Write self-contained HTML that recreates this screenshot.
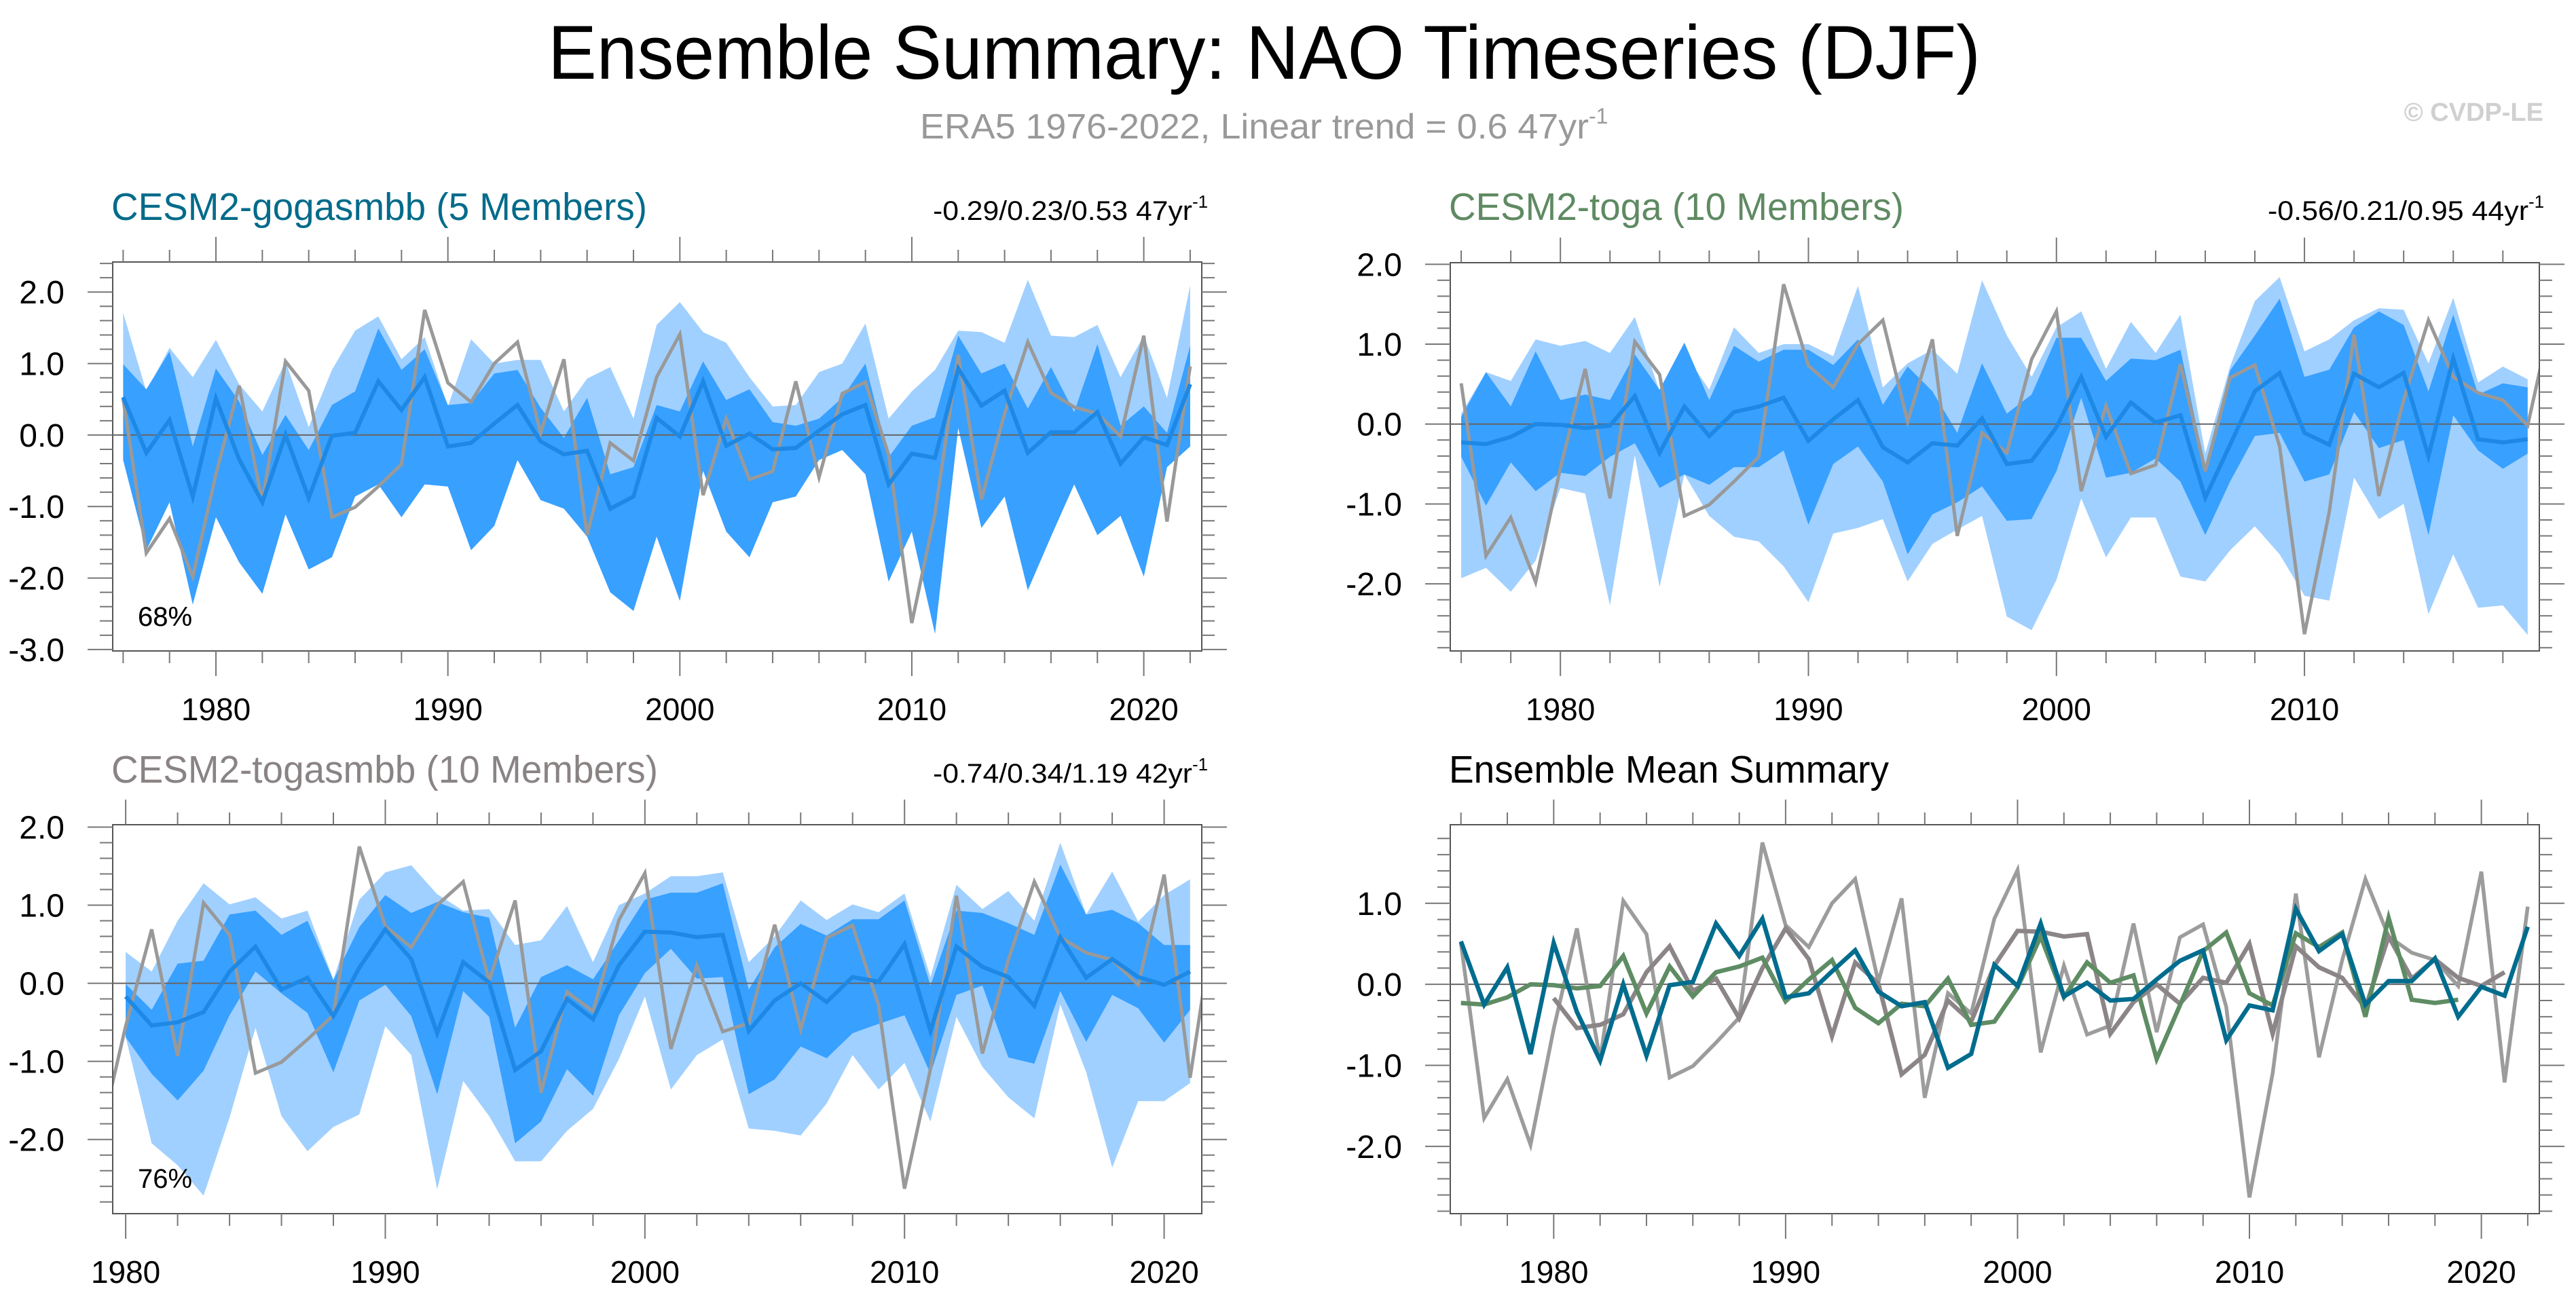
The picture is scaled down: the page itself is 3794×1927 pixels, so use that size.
<!DOCTYPE html>
<html><head><meta charset="utf-8"><style>
html,body{margin:0;padding:0;background:#fff;}
svg{display:block;font-family:"Liberation Sans",sans-serif;}
</style></head><body>
<svg id="chart" width="3794" height="1927" viewBox="0 0 3794 1927" xmlns="http://www.w3.org/2000/svg">
<rect width="3794" height="1927" fill="#fff"/>
<text x="807" y="116" font-size="112" textLength="2110" lengthAdjust="spacingAndGlyphs" fill="#000">Ensemble Summary: NAO Timeseries (DJF)</text>
<text x="1355" y="204" font-size="52" fill="#999"><tspan textLength="985" lengthAdjust="spacingAndGlyphs">ERA5 1976-2022, Linear trend = 0.6 47yr</tspan><tspan font-size="32" dy="-22">-1</tspan></text>
<text x="3746" y="178" font-size="38" font-weight="bold" fill="#d0d0d0" text-anchor="end">© CVDP-LE</text>
<g id="panels"></g>
</svg>
<script>
const years1976 = [];
for (let y = 1976; y <= 2022; y++) years1976.push(y);
const era5 = [0.51,-1.65,-1.17,-1.98,-0.55,0.69,-0.93,1.03,0.62,-1.15,-1.01,-0.72,-0.41,1.75,0.73,0.46,1.0,1.3,0.03,1.06,-1.40,-0.11,-0.36,0.81,1.41,-0.84,0.23,-0.62,-0.51,0.75,-0.59,0.58,0.74,-0.28,-2.63,-1.1,1.12,-0.9,0.3,1.3,0.59,0.39,0.30,-0.02,1.39,-1.21,0.96];

// CESM2-gogasmbb 1976-2022
const gogStart = 1976;
const gogMean = [0.53,-0.25,0.21,-0.86,0.51,-0.34,-0.94,0,-0.88,-0.01,0.03,0.75,0.35,0.81,-0.16,-0.11,0.16,0.42,-0.09,-0.27,-0.22,-1.03,-0.86,0.24,-0.02,0.75,-0.15,0.02,-0.20,-0.18,0.06,0.29,0.42,-0.69,-0.26,-0.32,0.93,0.41,0.62,-0.25,0.04,0.04,0.32,-0.40,-0.03,-0.14,0.71];
const gogMidHi = [0.99,0.64,1.17,-0.16,0.93,0.47,-0.28,0.28,-0.21,0.42,0.61,1.49,0.91,1.20,0.42,0.45,0.86,0.91,0.38,-0.04,0.52,-0.55,-0.45,0.42,0.33,1.03,0.49,0.64,0.18,0.13,0.23,0.52,1.0,-0.31,0.13,0.25,1.39,0.86,1.0,0.37,0.95,0.32,1.27,0.13,0.4,0.03,1.25];
const gogMidLo = [-0.35,-1.61,-0.94,-2.37,-1.15,-1.78,-2.22,-1.11,-1.88,-1.71,-0.86,-0.69,-1.15,-0.69,-0.72,-1.61,-1.27,-0.35,-0.91,-1.03,-1.42,-2.2,-2.46,-1.42,-2.32,-0.5,-1.35,-1.71,-0.94,-0.86,-0.35,-0.21,-0.55,-2.05,-1.35,-2.78,0.1,-1.3,-0.86,-2.17,-1.42,-0.69,-1.40,-1.13,-1.98,-0.45,-0.16];
const gogRngHi = [1.71,0.61,1.22,0.81,1.33,0.71,0.33,1.03,0.11,0.91,1.46,1.66,1.06,1.37,0.40,1.34,1.0,1.05,1.05,0.33,0.79,0.95,0.23,1.54,1.86,1.44,1.29,0.81,0.40,0.42,0.88,1.0,1.56,0.23,0.61,0.91,1.46,1.44,1.29,2.17,1.39,1.37,1.54,0.81,1.39,0.52,2.09];
const gogRngLo = gogMidLo;

// CESM2-toga 1976-2019
const togaStart = 1976;
const togaMean = [-0.23,-0.25,-0.16,0,-0.01,-0.05,-0.02,0.35,-0.36,0.22,-0.15,0.15,0.22,0.33,-0.21,0.06,0.30,-0.29,-0.48,-0.24,-0.27,0.07,-0.50,-0.46,-0.04,0.59,-0.16,0.27,0.02,0.11,-0.92,-0.26,0.41,0.64,-0.11,-0.26,0.63,0.46,0.64,-0.40,0.82,-0.19,-0.23,-0.19];
const togaMidHi = [0.09,0.65,0.22,0.91,0.30,0.37,0.30,0.87,0.43,1.02,0.30,0.98,0.78,0.93,0.93,0.74,1.06,0.24,0.72,0.41,-0.11,0.76,0.13,0.37,1.08,1.08,0.54,0.82,0.80,0.93,-0.54,0.67,1.11,1.57,0.59,0.68,1.21,1.41,1.24,0.41,1.37,0.37,0.51,0.46];
const togaMidLo = [-0.41,-1.02,-0.48,-0.84,-0.61,-0.65,-0.41,-0.24,-0.80,-0.63,-0.76,-0.54,-0.54,-0.33,-1.26,-0.50,-0.28,-0.72,-1.63,-1.13,-0.98,-0.78,-1.21,-1.19,-0.59,0.33,-0.67,-0.61,-0.43,-0.72,-1.39,-0.72,-0.15,-0.11,-0.72,-0.63,0.15,-0.30,-0.20,-1.39,0.11,-0.33,-0.56,-0.37];
const togaRngHi = [0.13,0.65,0.54,1.06,0.98,1.04,0.89,1.34,0.41,0.89,0.43,1.21,0.89,1.0,1.0,0.85,1.73,0.46,0.76,0.93,0.63,1.80,1.11,0.59,1.21,1.41,0.69,1.28,0.89,1.37,-0.37,0.72,1.54,1.84,0.91,1.06,1.30,1.45,1.43,0.76,1.58,0.52,0.72,0.56];
const togaRngLo = [-1.93,-1.80,-2.10,-1.71,-0.80,-0.87,-2.27,-0.39,-2.04,-0.63,-1.15,-1.41,-1.47,-1.78,-2.23,-1.37,-1.30,-1.19,-1.97,-1.50,-1.32,-1.15,-2.41,-2.58,-1.95,-0.93,-1.67,-1.17,-1.17,-1.91,-1.97,-1.58,-1.28,-1.63,-2.15,-2.21,-0.67,-1.19,-1.00,-2.38,-1.63,-2.30,-2.27,-2.64];

// CESM2-togasmbb 1980-2021
const tsmStart = 1980;
const tsmMean = [-0.17,-0.54,-0.50,-0.37,0.15,0.47,-0.08,0.07,-0.42,0.20,0.69,0.31,-0.64,0.27,0.01,-1.11,-0.87,-0.20,-0.46,0.23,0.66,0.65,0.59,0.62,-0.61,-0.22,0,-0.24,0.08,0.02,0.50,-0.61,0.47,0.21,0.08,-0.29,0.59,0.07,0.31,0.08,-0.02,0.15];
const tsmMidHi = [-0.01,-0.34,0.25,0.29,0.88,0.93,0.62,0.80,0.04,0.72,1.13,0.90,1.04,0.91,0.84,-0.57,0.08,0.23,0.05,0.55,1.07,1.16,1.16,1.28,-0.08,0.46,0.76,0.61,0.82,0.82,1.06,-0.03,0.93,0.90,0.77,0.62,1.52,0.88,0.94,0.77,0.49,0.49];
const tsmMidLo = [-0.69,-1.16,-1.50,-1.12,-0.41,0.15,-0.13,-0.38,-1.14,-0.22,-0.02,-0.42,-1.42,-0.10,-0.43,-2.05,-1.77,-1.10,-1.44,-0.41,0.13,0.44,0.06,0.08,-1.42,-1.23,-0.81,-0.96,-0.64,-0.52,-0.41,-1.16,-0.15,-0.03,-0.95,-1.03,-0.10,-0.75,-0.15,-0.32,-0.76,-0.34];
const tsmRngHi = [0.40,0.15,0.80,1.28,1.01,1.10,0.83,0.93,0.05,1.07,1.42,1.51,1.14,0.93,0.95,0.49,0.55,0.99,0.27,1.00,1.15,1.37,1.37,1.42,0.27,0.60,1.06,0.81,1.01,0.91,1.15,0.08,1.26,0.95,1.18,0.80,1.80,0.88,1.43,0.79,1.13,1.33];
const tsmRngLo = [-0.69,-2.05,-2.33,-2.72,-1.72,-0.57,-1.70,-2.15,-1.84,-1.68,-0.55,-0.92,-2.64,-1.25,-1.70,-2.28,-2.28,-1.89,-1.61,-0.97,-0.17,-1.36,-0.92,-0.72,-1.86,-1.89,-1.95,-1.54,-0.92,-1.36,-1.02,-1.77,-0.43,-1.07,-1.46,-1.73,-0.27,-1.14,-2.36,-1.51,-1.51,-1.28];

const yTicksP1 = [2,1,0,-1,-2,-3];
const yTicksP2 = [2,1,0,-1,-2];
const yTicksP4 = [1,0,-1,-2];
const xTickLabels = [1980,1990,2000,2010,2020];

const NS = "http://www.w3.org/2000/svg";
const root = document.getElementById("panels");
function mk(tag, attrs, parent) {
  const e = document.createElementNS(NS, tag);
  for (const k in attrs) e.setAttribute(k, attrs[k]);
  (parent || root).appendChild(e);
  return e;
}
let clipId = 0;
function panel(p) {
  const g = mk("g", {});
  
  
  const sx = v => p.x0 + (v - p.xmin) / (p.xmax - p.xmin) * (p.x1 - p.x0);
  const sy = v => p.y1 - (v - p.ymin) / (p.ymax - p.ymin) * (p.y1 - p.y0);
  const cid = "clip" + (clipId++);
  const cp = mk("clipPath", {id: cid}, g);
  mk("rect", {x: p.x0, y: p.y0, width: p.x1 - p.x0, height: p.y1 - p.y0}, cp);
  const plot = mk("g", {"clip-path": "url(#" + cid + ")"}, g);
  function band(start, hi, lo, color, name) {
    let d = "";
    hi.forEach((v, i) => d += (i ? "L" : "M") + sx(start + i).toFixed(1) + "," + sy(v).toFixed(1));
    for (let i = lo.length - 1; i >= 0; i--) d += "L" + sx(start + i).toFixed(1) + "," + sy(lo[i]).toFixed(1);
    const e = mk("path", {d: d + "Z", fill: color}, plot);
    
    
  }
  function line(start, vals, color, w, name) {
    let d = "";
    vals.forEach((v, i) => d += (i ? "L" : "M") + sx(start + i).toFixed(1) + "," + sy(v).toFixed(1));
    const e = mk("path", {d: d, fill: "none", stroke: color, "stroke-width": w, "stroke-linejoin": "miter"}, plot);
    
    
  }
  if (p.bands) {
    band(p.start, p.rngHi, p.rngLo, "#a0d0ff", "range-band");
    band(p.start, p.midHi, p.midLo, "#38a0ff", "spread-68pct-band");
  }
  mk("line", {x1: p.x0, x2: p.x1, y1: sy(0), y2: sy(0), stroke: "#666", "stroke-width": 2}, plot);
  if (p.bands) {
    line(1976, era5, "#999999", 5, "era5-line");
    line(p.start, p.mean, "#1e88e5", 6, "ensemble-mean-line");
  } else {
    line(1976, era5, "#9c9c9c", 5.5, "era5-line");
    line(tsmStart, tsmMean, "#8c8587", 6.5, "togasmbb-mean-line");
    line(togaStart, togaMean, "#5e8c63", 6.5, "toga-mean-line");
    line(gogStart, gogMean, "#006c8e", 6.5, "gogasmbb-mean-line");
  }
  // frame
  mk("rect", {x: p.x0, y: p.y0, width: p.x1 - p.x0, height: p.y1 - p.y0, fill: "none", stroke: "#555", "stroke-width": 2}, g);
  // x ticks
  const fy0 = Math.ceil(p.xmin), fy1 = Math.floor(p.xmax);
  for (let yr = fy0; yr <= fy1; yr++) {
    if (yr % 2) continue;
    const major = yr % 10 === 0, len = major ? 37 : 18, x = sx(yr);
    mk("line", {x1: x, x2: x, y1: p.y0, y2: p.y0 - len, stroke: "#777", "stroke-width": 2}, g);
    mk("line", {x1: x, x2: x, y1: p.y1, y2: p.y1 + len, stroke: "#777", "stroke-width": 2}, g);
  }
  xTickLabels.forEach(yr => {
    if (yr < p.xmin || yr > p.xmax) return;
    const t = mk("text", {x: sx(yr), y: p.y1 + 102, "font-size": 46, "text-anchor": "middle", fill: "#000"}, g);
    t.textContent = yr;
    
    
  });
  // y ticks
  for (let k = Math.ceil(p.ymin * 5); k <= Math.floor(p.ymax * 5); k++) {
    const v = k / 5, major = k % 5 === 0, len = major ? 37 : 19, y = sy(v);
    mk("line", {x1: p.x0, x2: p.x0 - len, y1: y, y2: y, stroke: "#777", "stroke-width": 2}, g);
    mk("line", {x1: p.x1, x2: p.x1 + len, y1: y, y2: y, stroke: "#777", "stroke-width": 2}, g);
  }
  p.yTicks.forEach(v => {
    const t = mk("text", {x: p.x0 - 71, y: sy(v) + 17, "font-size": 48, "text-anchor": "end", fill: "#000"}, g);
    t.textContent = v.toFixed(1);
    
    
  });
  const tt = mk("text", {x: p.x0 - 2, y: p.titleY, "font-size": 57, fill: p.titleColor, textLength: p.titleW, lengthAdjust: "spacingAndGlyphs"}, g);
  tt.textContent = p.title;
  
  
  if (p.stat) {
    const st = mk("text", {x: p.statX, y: p.titleY, "font-size": 40, fill: "#000"}, g);
    
    
    const a = mk("tspan", {textLength: p.statW, lengthAdjust: "spacingAndGlyphs"}, st);
    a.textContent = p.stat;
    const b = mk("tspan", {"font-size": 26, dy: -18}, st);
    b.textContent = "-1";
  }
  if (p.pct) {
    const pt = mk("text", {x: 203, y: p.pctY, "font-size": 40, fill: "#000"}, g);
    pt.textContent = p.pct;
    
    
  }
}
panel({name: "panel-cesm2-gogasmbb", x0: 166, x1: 1770, y0: 386, y1: 959, xmin: 1975.55, xmax: 2022.5, ymin: -3.02, ymax: 2.42,
  bands: true, start: gogStart, mean: gogMean, midHi: gogMidHi, midLo: gogMidLo, rngHi: gogRngHi, rngLo: gogRngLo, yTicks: yTicksP1,
  title: "CESM2-gogasmbb (5 Members)", titleColor: "#036b8a", titleW: 789, titleY: 324, stat: "-0.29/0.23/0.53 47yr", statX: 1374, statW: 382, pct: "68%", pctY: 922});
panel({name: "panel-cesm2-toga", x0: 2136, x1: 3740, y0: 387, y1: 959, xmin: 1975.56, xmax: 2019.47, ymin: -2.84, ymax: 2.02,
  bands: true, start: togaStart, mean: togaMean, midHi: togaMidHi, midLo: togaMidLo, rngHi: togaRngHi, rngLo: togaRngLo, yTicks: yTicksP2,
  title: "CESM2-toga (10 Members)", titleColor: "#5f8a62", titleW: 670, titleY: 324, stat: "-0.56/0.21/0.95 44yr", statX: 3340, statW: 384, pct: "68%", pctY: 922});
panel({name: "panel-cesm2-togasmbb", x0: 166, x1: 1770, y0: 1215, y1: 1788, xmin: 1979.5, xmax: 2021.45, ymin: -2.95, ymax: 2.03,
  bands: true, start: tsmStart, mean: tsmMean, midHi: tsmMidHi, midLo: tsmMidLo, rngHi: tsmRngHi, rngLo: tsmRngLo, yTicks: yTicksP2,
  title: "CESM2-togasmbb (10 Members)", titleColor: "#8a8384", titleW: 805, titleY: 1153, stat: "-0.74/0.34/1.19 42yr", statX: 1374, statW: 382, pct: "76%", pctY: 1750});
panel({name: "panel-ensemble-mean-summary", x0: 2136, x1: 3740, y0: 1215, y1: 1788, xmin: 1975.54, xmax: 2022.5, ymin: -2.83, ymax: 1.97,
  bands: false, yTicks: yTicksP4, title: "Ensemble Mean Summary", titleColor: "#000", titleW: 648, titleY: 1153});
</script>
</body></html>
